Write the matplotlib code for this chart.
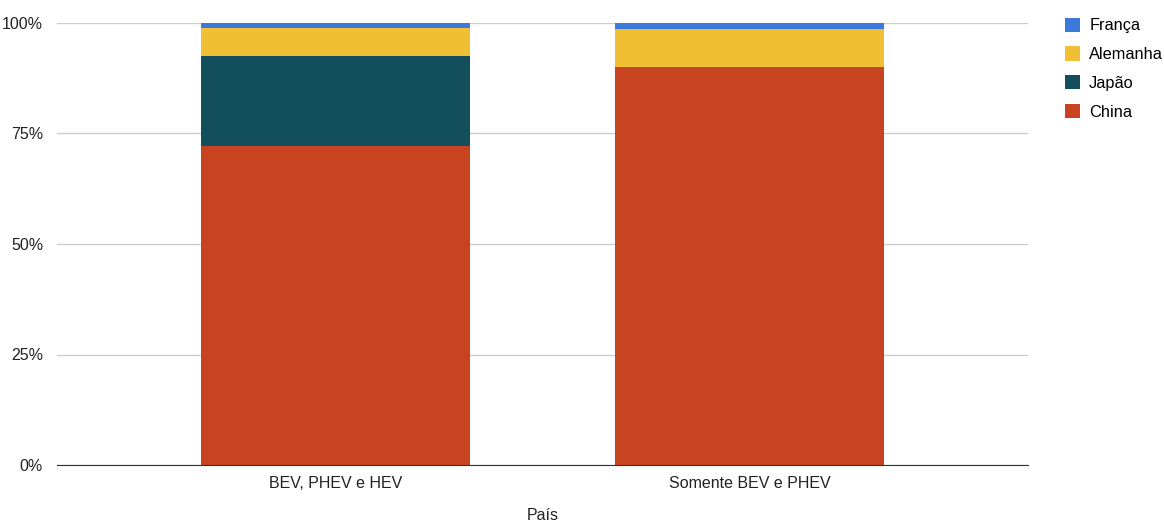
import numpy as np
import matplotlib.pyplot as plt
from matplotlib.patches import Patch

categories = ['BEV, PHEV e HEV', 'Somente BEV e PHEV']
china = [72.1, 90.1]
japao = [20.5, 0.0]
alemanha = [6.3, 8.5]
franca = [1.1, 1.4]

series = [('China', china, '#c8431f'),
          ('Japão', japao, '#124e5b'),
          ('Alemanha', alemanha, '#f0bf33'),
          ('França', franca, '#3c7ad9')]

plt.rcParams['font.family'] = ['Liberation Sans', 'DejaVu Sans']

fig = plt.figure(figsize=(11.64, 5.25), dpi=100)
ax = fig.add_axes([57 / 1164, 60 / 525, 971 / 1164, 442 / 525])

x = np.arange(len(categories))
bottom = np.zeros(len(categories))
for name, vals, col in series:
    ax.bar(x, vals, width=0.65, bottom=bottom, color=col, zorder=3)
    bottom += np.array(vals)

ax.set_xlim(-0.673, 1.673)
ax.set_ylim(0, 100)
ax.set_yticks([0, 25, 50, 75, 100])
ax.set_yticklabels(['0%', '25%', '50%', '75%', '100%'], fontsize=11.5, color='#222222')
ax.set_xticks(x)
ax.set_xticklabels(categories, fontsize=11.5, color='#222222')
ax.tick_params(axis='y', length=0, pad=10)
ax.tick_params(axis='x', length=0, pad=8)
ax.grid(axis='y', color='#cccccc', linewidth=1, zorder=0)
for s in ['top', 'right', 'left']:
    ax.spines[s].set_visible(False)
ax.spines['bottom'].set_color('#333333')
ax.spines['bottom'].set_zorder(4)
ax.set_xlabel('País', fontsize=11.5, color='#222222', labelpad=12)

handles = [Patch(facecolor=col, label=name) for name, vals, col in series[::-1]]
fig.legend(handles=handles, loc='upper left', bbox_to_anchor=(1058 / 1164, 1 - 11 / 525),
           frameon=False, fontsize=11.8, handlelength=0.95, handleheight=0.95,
           handletextpad=0.55, labelspacing=0.8, borderaxespad=0)

fig.savefig('out.png', dpi=100)
